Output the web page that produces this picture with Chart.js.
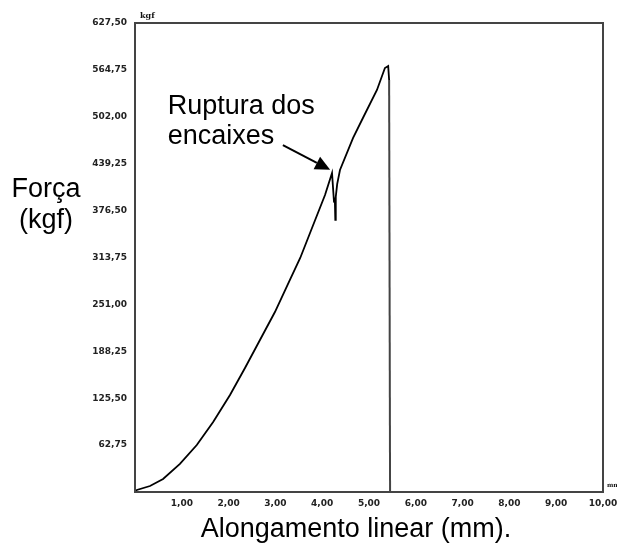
<!DOCTYPE html>
<html>
<head>
<meta charset="utf-8">
<script src="https://cdn.jsdelivr.net/npm/chart.js@4"></script>
<style>
  html,body{margin:0;padding:0;background:#fff;}
  #wrap{width:617px;height:546px;}
</style>
</head>
<body>
<div id="wrap"><canvas id="c" width="617" height="546"></canvas></div>
<script>
// alongamento (mm) e força (kgf)
const along = [0, 0.04, 0.32, 0.60, 0.96, 1.32, 1.67, 2.03, 2.35, 2.67, 2.99, 3.31, 3.53, 3.74, 4.06, 4.21,
  4.25, 4.27, 4.28, 4.29, 4.32, 4.38, 4.66, 4.87, 5.17, 5.34, 5.41, 5.43, 5.45];
const forca = [0, 2.7, 8, 17.4, 37.5, 62.9, 93.7, 129.8, 165.9, 203.4, 240.8, 283.7, 313.1, 346.5, 397.4, 426.8,
  390, 392, 364, 395, 412, 430.8, 473.7, 500.4, 537.9, 567.3, 570, 551.3, 0];

const yTicks = [62.75, 125.5, 188.25, 251, 313.75, 376.5, 439.25, 502, 564.75, 627.5];
const xTicks = [1, 2, 3, 4, 5, 6, 7, 8, 9, 10];

const yTitle = ['Força', '(kgf)'];
const xTitle = 'Alongamento linear (mm).';
const noteLines = ['Ruptura dos', 'encaixes'];
// posição da nota e da seta em unidades do gráfico
const notePos = {x: 0.70, y: 506};
const arrowFrom = {x: 3.16, y: 464};
const arrowTo = {x: 4.17, y: 431};

function fmt(v){ return Number(v).toFixed(2).replace('.', ','); }

const pts = along.map((x,i)=>({x:x, y:forca[i]}));
const last = pts.length - 2;

const BIG = '27px "Liberation Sans", Arial, sans-serif';
const SMALL = {family: '"DejaVu Sans", sans-serif', size: 9, weight: 'bold'};

const extras = {
  id: 'extras',
  afterDraw(chart){
    const c = chart.ctx, a = chart.chartArea;
    const xs = chart.scales.x, ys = chart.scales.y;
    c.save();
    // moldura
    c.strokeStyle = '#444'; c.lineWidth = 2;
    c.strokeRect(a.left, a.top, a.right - a.left, a.bottom - a.top);
    // unidades pequenas
    c.fillStyle = '#111';
    c.font = 'bold 8px "DejaVu Serif", serif';
    c.textAlign = 'left'; c.textBaseline = 'alphabetic';
    c.fillText('kgf', a.left + 5, a.top - 5);
    c.font = 'bold 6px "DejaVu Serif", serif';
    c.fillText('mm', a.right + 4, a.bottom - 5);
    // títulos
    c.fillStyle = '#000';
    c.font = BIG;
    c.textAlign = 'center';
    c.fillText(yTitle[0], 46, 197);
    c.fillText(yTitle[1], 46, 228);
    c.fillText(xTitle, 356, 537);
    // nota
    c.textAlign = 'left';
    const nx = xs.getPixelForValue(notePos.x), ny = ys.getPixelForValue(notePos.y);
    c.fillText(noteLines[0], nx, ny);
    c.fillText(noteLines[1], nx, ny + 30);
    // seta
    const x1 = xs.getPixelForValue(arrowFrom.x), y1 = ys.getPixelForValue(arrowFrom.y);
    const x2 = xs.getPixelForValue(arrowTo.x), y2 = ys.getPixelForValue(arrowTo.y);
    const ang = Math.atan2(y2 - y1, x2 - x1);
    const hl = 15, hw = 7;
    c.strokeStyle = '#000'; c.lineWidth = 2;
    c.beginPath();
    c.moveTo(x1, y1);
    c.lineTo(x2 - hl*Math.cos(ang), y2 - hl*Math.sin(ang));
    c.stroke();
    c.beginPath();
    c.moveTo(x2, y2);
    c.lineTo(x2 - hl*Math.cos(ang) + hw*Math.sin(ang), y2 - hl*Math.sin(ang) - hw*Math.cos(ang));
    c.lineTo(x2 - hl*Math.cos(ang) - hw*Math.sin(ang), y2 - hl*Math.sin(ang) + hw*Math.cos(ang));
    c.closePath();
    c.fillStyle = '#000';
    c.fill();
    c.restore();
  }
};

new Chart(document.getElementById('c'), {
  type: 'line',
  data: {
    datasets: [{
      data: pts,
      borderColor: '#000',
      borderWidth: 1.8,
      pointRadius: 0,
      tension: 0,
      segment: {
        borderColor: ctx => ctx.p0DataIndex === last ? '#444' : '#000',
        borderWidth: ctx => ctx.p0DataIndex === last ? 2 : 1.8
      }
    }]
  },
  options: {
    responsive: false,
    animation: false,
    layout: {padding: {top: 23, right: 14, left: 0, bottom: 0}},
    plugins: {legend: {display: false}, tooltip: {enabled: false}},
    scales: {
      x: {
        type: 'linear', min: 0, max: 10,
        afterBuildTicks: s => { s.ticks = xTicks.map(v=>({value:v})); },
        afterFit: s => { s.height = 54; s.paddingLeft = 0; s.paddingRight = 0; },
        grid: {display: false, drawTicks: false},
        border: {display: false},
        ticks: {
          padding: 6, color: '#222', maxRotation: 0, autoSkip: false,
          font: SMALL,
          callback: v => fmt(v)
        }
      },
      y: {
        type: 'linear', min: 0, max: 627.5,
        afterBuildTicks: s => { s.ticks = yTicks.map(v=>({value:v})); },
        afterFit: s => { s.width = 135; s.paddingTop = 0; s.paddingBottom = 0; },
        grid: {display: false, drawTicks: false},
        border: {display: false},
        ticks: {
          padding: 8, color: '#222', autoSkip: false,
          font: SMALL,
          callback: v => fmt(v)
        }
      }
    }
  },
  plugins: [extras]
});
</script>
</body>
</html>
